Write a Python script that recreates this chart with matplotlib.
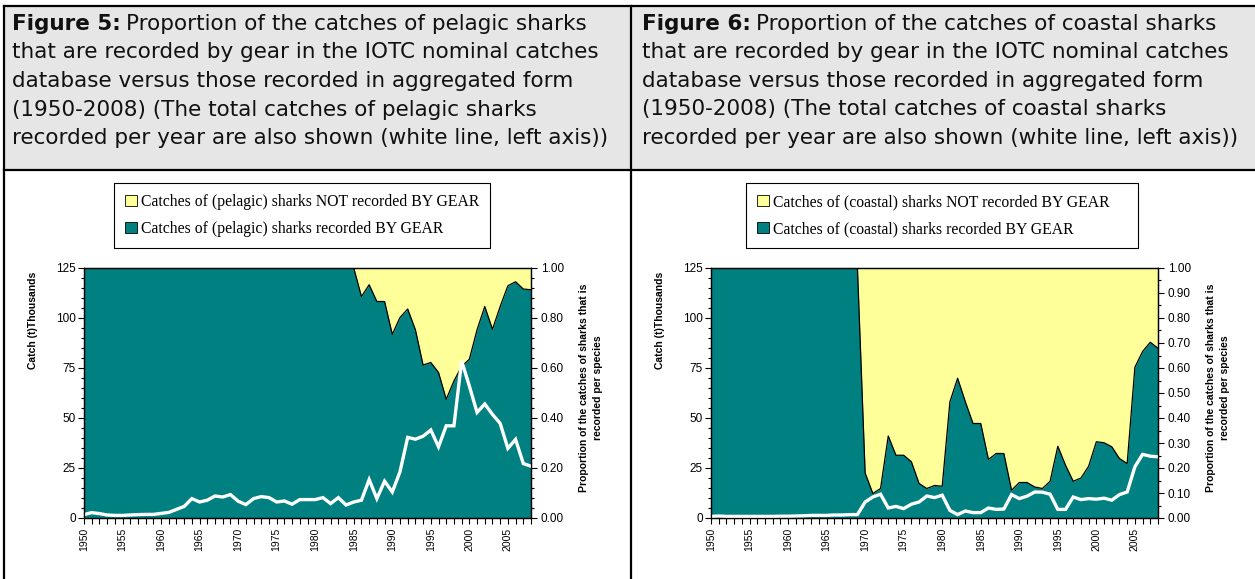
"""
Shark catches recorded by gear vs aggregated (IOTC, 1950-2008), two panels.
"""

import matplotlib
matplotlib.use('Agg')
import matplotlib.pyplot as plt
from matplotlib.patches import Patch, Rectangle
from matplotlib.lines import Line2D
from matplotlib.ticker import MultipleLocator, FormatStrFormatter

plt.rcParams['font.family'] = ['Liberation Sans', 'DejaVu Sans']

W, H = 1255, 579

years = list(range(1950, 2009))

# share of catches recorded by gear (right axis)
pelagic_share = [
    1.00, 1.00, 1.00, 1.00, 1.00, 1.00, 1.00, 1.00, 1.00, 1.00,
    1.00, 1.00, 1.00, 1.00, 1.00, 1.00, 1.00, 1.00, 1.00, 1.00,
    1.00, 1.00, 1.00, 1.00, 1.00, 1.00, 1.00, 1.00, 1.00, 1.00,
    1.00, 1.00, 1.00, 1.00, 1.00, 1.00, 0.886, 0.933, 0.866, 0.866,
    0.735, 0.802, 0.836, 0.753, 0.612, 0.622, 0.582, 0.475, 0.548, 0.606,
    0.635, 0.753, 0.846, 0.755, 0.846, 0.929, 0.945, 0.916, 0.913,
]
coastal_share = [
    1.00, 1.00, 1.00, 1.00, 1.00, 1.00, 1.00, 1.00, 1.00, 1.00,
    1.00, 1.00, 1.00, 1.00, 1.00, 1.00, 1.00, 1.00, 1.00, 1.00,
    0.180, 0.098, 0.118, 0.328, 0.251, 0.251, 0.225, 0.138, 0.118, 0.130,
    0.127, 0.465, 0.559, 0.465, 0.378, 0.378, 0.234, 0.258, 0.258, 0.111,
    0.142, 0.142, 0.124, 0.118, 0.147, 0.287, 0.211, 0.147, 0.160, 0.207,
    0.305, 0.301, 0.285, 0.238, 0.218, 0.603, 0.666, 0.703, 0.679,
]

# total catches, thousand t (left axis, white line)
pelagic_catch = [
    1.7, 2.7, 2.2, 1.5, 1.3, 1.3, 1.5, 1.7, 1.8, 1.8,
    2.3, 2.8, 4.3, 5.8, 9.7, 8.0, 8.9, 11.0, 10.5, 11.7,
    8.4, 6.7, 9.7, 10.7, 10.2, 8.0, 8.5, 6.9, 9.2, 9.2,
    9.2, 10.2, 7.2, 10.2, 6.5, 8.0, 8.9, 19.2, 9.7, 18.4,
    13.0, 23.1, 40.3, 39.4, 40.9, 44.0, 35.6, 46.1, 46.1, 78.5,
    66.0, 52.8, 57.0, 51.8, 47.3, 34.8, 39.3, 27.2, 25.9,
]
coastal_catch = [
    0.8, 1.0, 0.8, 0.8, 0.8, 0.8, 0.8, 0.8, 0.8, 0.9,
    0.9, 1.0, 1.1, 1.3, 1.3, 1.3, 1.5, 1.5, 1.7, 1.7,
    8.0, 10.5, 11.9, 5.0, 5.8, 4.7, 6.9, 8.0, 11.0, 10.2,
    11.4, 3.8, 1.7, 3.5, 2.7, 2.7, 5.0, 4.3, 4.5, 11.7,
    9.7, 10.9, 13.0, 12.9, 11.9, 4.3, 4.3, 10.5, 9.2, 9.7,
    9.4, 9.9, 8.9, 11.7, 13.0, 25.6, 31.8, 30.9, 30.6,
]

header_5 = [
    "Proportion of the catches of pelagic sharks",
    "that are recorded by gear in the IOTC nominal catches",
    "database versus those recorded in aggregated form",
    "(1950-2008) (The total catches of pelagic sharks",
    "recorded per year are also shown (white line, left axis))",
]
header_6 = [
    "Proportion of the catches of coastal sharks",
    "that are recorded by gear in the IOTC nominal catches",
    "database versus those recorded in aggregated form",
    "(1950-2008) (The total catches of coastal sharks",
    "recorded per year are also shown (white line, left axis))",
]

TEAL = '#008080'
YELLOW = '#ffff99'
GREY = '#e6e6e6'
HEAD_FONT = 'DejaVu Sans'


def fx(px):
    return px / W


def fy(py):
    return 1 - py / H


fig = plt.figure(figsize=(W / 100, H / 100), dpi=100)
renderer = fig.canvas.get_renderer()

# size the caption font so the longest caption line spans ~585 px
probe = fig.text(0, 0, header_5[1], fontsize=15, family=HEAD_FONT)
HEAD_SIZE = 15 * 585 / probe.get_window_extent(renderer).width
probe.remove()

# table look: grey header row and black rules
fig.add_artist(Rectangle((fx(4), fy(170)), fx(1255) - fx(4), fy(6) - fy(170),
                         transform=fig.transFigure, facecolor=GREY,
                         edgecolor='none', zorder=0))
rules = [
    ([4, 1255], [6, 6]),
    ([4, 1255], [170, 170]),
    ([4, 4], [6, 579]),
    ([631, 631], [6, 579]),
]
for xs, ys in rules:
    fig.add_artist(Line2D([fx(v) for v in xs], [fy(v) for v in ys],
                          color='black', lw=1.6, zorder=5))


def header(x0, num, lines):
    base = 30
    kw = dict(fontsize=HEAD_SIZE, family=HEAD_FONT, va='baseline',
              color='#111111')
    t = fig.text(fx(x0), fy(base), f'Figure {num}:', fontweight='bold', **kw)
    bb = t.get_window_extent(renderer)
    fig.text(fx(bb.x1 + 5), fy(base), lines[0], **kw)
    for i, line in enumerate(lines[1:], 1):
        fig.text(fx(x0), fy(base + i * 28.5), line, **kw)


def panel(left, kind, share, catch, prop_step, prop_minor, leg_box):
    ax = fig.add_axes([fx(left), fy(518), 447 / W, 250 / H])
    ax2 = ax.twinx()

    ax2.fill_between(years, share, 1, color=YELLOW, lw=0)
    ax2.fill_between(years, 0, share, color=TEAL, lw=0)
    ax2.plot(years, share, color='black', lw=0.9)
    ax.plot(years, catch, color='white', lw=2.4, solid_joinstyle='miter')

    ax.set_zorder(ax2.get_zorder() + 1)
    ax.patch.set_visible(False)

    ax.set_xlim(1950, 2008)
    ax.set_ylim(0, 125)
    ax2.set_ylim(0, 1)

    ax.set_xticks(years)
    ax.set_xticklabels([str(y) if y % 5 == 0 else '' for y in years],
                       rotation=90, fontsize=7.5)
    ax.yaxis.set_major_locator(MultipleLocator(25))
    ax.yaxis.set_minor_locator(MultipleLocator(5))
    ax2.yaxis.set_major_locator(MultipleLocator(prop_step))
    ax2.yaxis.set_minor_locator(MultipleLocator(prop_minor))
    ax2.yaxis.set_major_formatter(FormatStrFormatter('%.2f'))

    ax.tick_params(axis='x', length=4, width=0.8, pad=3)
    ax.tick_params(axis='y', which='major', length=4, width=0.8, pad=2,
                   labelsize=8.5)
    ax.tick_params(axis='y', which='minor', length=2.5, width=0.8)
    ax2.tick_params(axis='y', which='major', length=4, width=0.8, pad=3,
                    labelsize=8.5)
    ax2.tick_params(axis='y', which='minor', length=2.5, width=0.8)
    for a in (ax, ax2):
        for sp in a.spines.values():
            sp.set_linewidth(0.9)
            sp.set_color('black')

    ax.set_ylabel('Catch (t)Thousands', fontsize=7.5, fontweight='bold')
    ax.yaxis.label.set_va('center')
    ax.yaxis.set_label_coords(-0.114, 0.79)
    ax2.set_ylabel('Proportion of the catches of sharks that is\n'
                   'recorded per species', fontsize=7.5, fontweight='bold',
                   linespacing=1.45)
    ax2.yaxis.label.set_va('center')
    ax2.yaxis.set_label_coords(1.134, 0.52)

    handles = [
        Patch(facecolor=YELLOW, edgecolor='black', lw=0.6,
              label=f'Catches of ({kind}) sharks NOT recorded BY GEAR'),
        Patch(facecolor=TEAL, edgecolor='black', lw=0.6,
              label=f'Catches of ({kind}) sharks recorded BY GEAR'),
    ]
    x0, x1, y0 = leg_box
    leg = fig.legend(handles=handles, loc='upper left', mode='expand',
                     bbox_to_anchor=(fx(x0), fy(y0), (x1 - x0) / W, 0),
                     borderaxespad=0, prop={'family': 'Liberation Serif',
                                            'size': 11.3},
                     handlelength=0.75, handleheight=0.7, handletextpad=0.3,
                     labelspacing=0.7, borderpad=0.7, fancybox=False,
                     framealpha=1, edgecolor='black')
    leg.get_frame().set_linewidth(0.8)
    return ax, ax2


header(12, 5, header_5)
header(642, 6, header_6)
panel(84, 'pelagic', pelagic_share, pelagic_catch, 0.2, 0.04, (114, 490, 183))
panel(711, 'coastal', coastal_share, coastal_catch, 0.1, 0.05, (746, 1138, 183))

fig.savefig('out.png', dpi=100, facecolor='white')
